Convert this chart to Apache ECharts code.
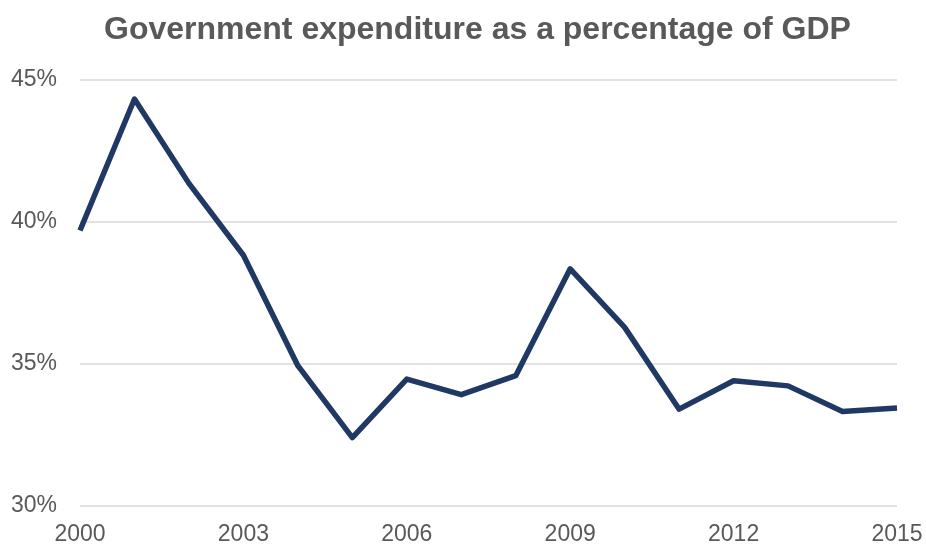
<!DOCTYPE html>
<html>
<head>
<meta charset="utf-8">
<script src="https://cdn.jsdelivr.net/npm/echarts@6/dist/echarts.min.js"></script>
<style>
  html, body { margin: 0; padding: 0; background: #ffffff; }
  #chart { width: 926px; height: 547px; }
</style>
</head>
<body>
<div id="chart"></div>
<script>
// Years on the horizontal axis
const years = ['2000','2001','2002','2003','2004','2005','2006','2007',
               '2008','2009','2010','2011','2012','2013','2014','2015'];
// Government expenditure, percent of GDP
const expenditure = [39.7, 44.33, 41.36, 38.83, 34.94, 32.41, 34.47, 33.92,
                     34.59, 38.35, 36.29, 33.41, 34.41, 34.23, 33.33, 33.45];
// Value-axis range (percent)
const yMin = 30, yMax = 45, yStep = 5;

const chart = echarts.init(document.getElementById('chart'), null, { renderer: 'canvas' });
chart.setOption({
  animation: false,
  backgroundColor: '#ffffff',
  title: {
    text: 'Government expenditure as a percentage of GDP',
    left: 99,
    top: 9,
    textStyle: {
      fontFamily: 'Liberation Sans, Arial, sans-serif',
      fontSize: 32,
      fontWeight: 'bold',
      color: '#595959'
    }
  },
  grid: { left: 80, right: 29, top: 80, bottom: 41, containLabel: false },
  xAxis: {
    type: 'category',
    data: years,
    boundaryGap: false,
    axisLine: { show: false },
    axisTick: { show: false },
    axisLabel: {
      interval: 2,
      margin: 17,
      fontFamily: 'Liberation Sans, Arial, sans-serif',
      fontSize: 23,
      color: '#595959'
    }
  },
  yAxis: {
    type: 'value',
    min: yMin,
    max: yMax,
    interval: yStep,
    axisLine: { show: false },
    axisTick: { show: false },
    splitLine: { lineStyle: { color: '#d9d9d9', width: 1.5 } },
    axisLabel: {
      formatter: '{value}%',
      margin: 23,
      fontFamily: 'Liberation Sans, Arial, sans-serif',
      fontSize: 23,
      color: '#595959'
    }
  },
  series: [{
    type: 'line',
    data: expenditure,
    showSymbol: false,
    lineStyle: { color: '#1f3864', width: 5.5, join: 'round', cap: 'butt' }
  }]
});
</script>
</body>
</html>
